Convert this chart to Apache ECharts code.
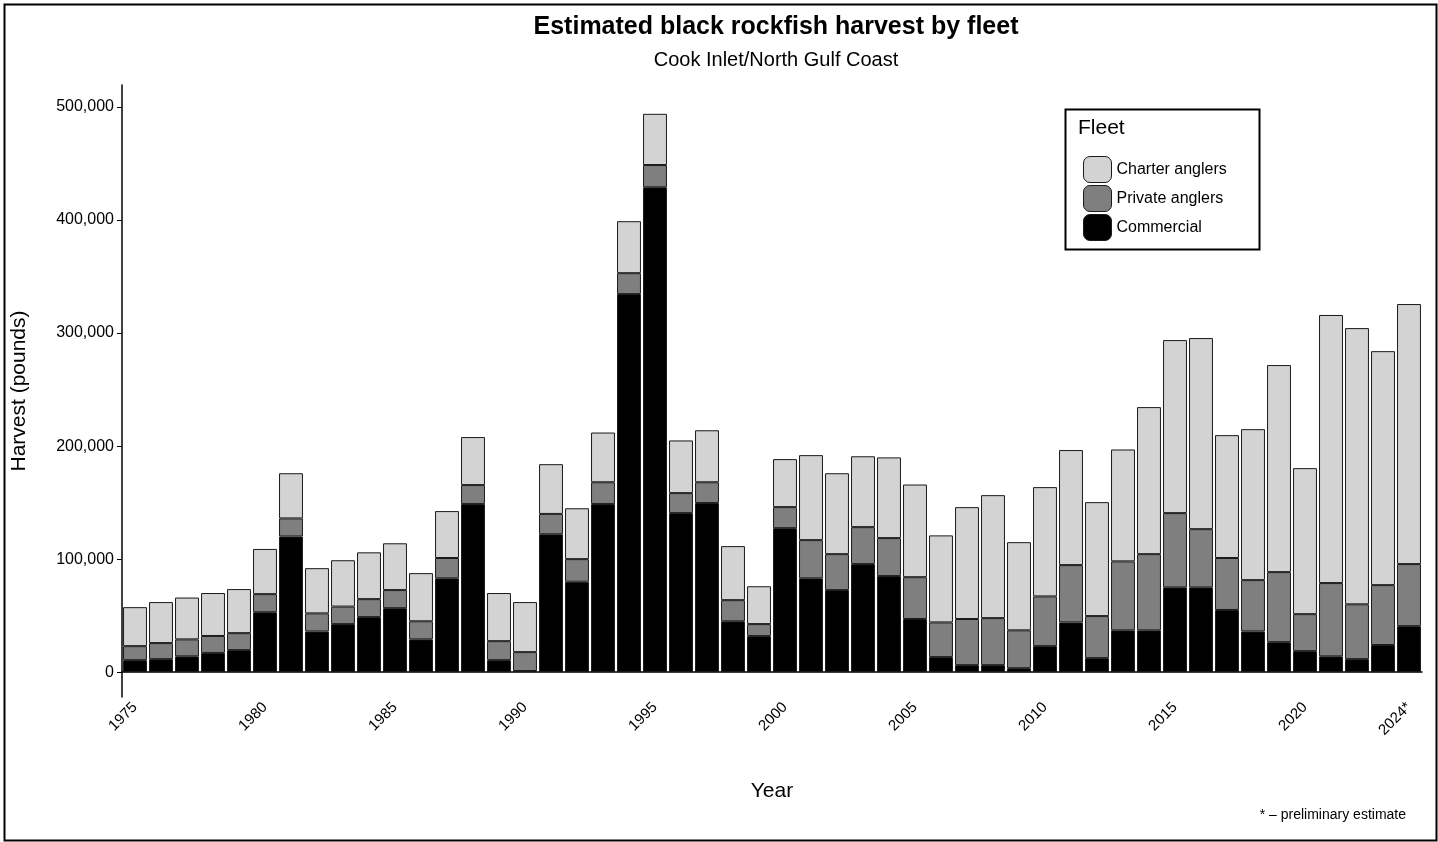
<!DOCTYPE html>
<html lang="en">
<head>
    <meta charset="UTF-8" />
    <title>Black rockfish harvest</title>
    <script src="https://cdn.jsdelivr.net/npm/echarts@6/dist/echarts.min.js"></script>
    <style>
        body { margin: 0; background: #fff; }
        #chart { width: 1438px; height: 842px; }
    </style>
</head>
<body>
    <div id="chart"></div>
    <script>
        // data (pounds)
        const years = [];
        for (let y = 1975; y <= 2024; y++) years.push(y === 2024 ? "2024*" : String(y));

        const commercial = [10600, 11500, 14000, 17000, 19500, 53000, 120000, 36000, 42500, 48700,
            56600, 29000, 83000, 148700, 10600, 1000, 122000, 80000, 148700, 334500,
            429000, 140700, 149600, 45000, 31900, 127400, 83000, 72600, 95600, 85000,
            47000, 13300, 6200, 6200, 3500, 23000, 44000, 12400, 37000, 37000,
            75000, 75000, 55000, 36000, 26500, 18600, 14000, 11500, 24000, 40700];
        const privateAnglers = [12400, 14200, 15000, 15000, 15000, 16000, 16000, 16000, 15500, 15900,
            16000, 16000, 18000, 16800, 16800, 16700, 18000, 20000, 19300, 18500,
            19700, 17700, 18400, 18700, 10600, 18600, 33800, 31800, 32700, 33600,
            37000, 30700, 40800, 41600, 33500, 44000, 50700, 37200, 61000, 67400,
            65700, 51500, 46000, 45400, 62000, 32700, 64800, 48500, 53000, 54900];
        const charter = [34500, 36300, 37000, 38000, 39000, 40000, 40000, 40000, 41000, 41400,
            41400, 42600, 41500, 42500, 42600, 44300, 44000, 45000, 44000, 46000,
            45300, 46600, 46000, 47800, 33500, 42500, 75200, 71600, 62700, 71400,
            82000, 77000, 99000, 108800, 78000, 96700, 101800, 100800, 99000, 130100,
            153100, 169100, 108700, 133600, 183200, 129200, 237200, 244400, 207000, 230100];

        const seriesNames = ["Charter anglers", "Private anglers", "Commercial"];
        const seriesColors = ["#d3d3d3", "#7f7f7f", "#000000"];

        const chart = echarts.init(document.getElementById("chart"));

        function bar(name, data, color) {
            return {
                name: name,
                type: "bar",
                stack: "total",
                data: data,
                barCategoryGap: "8%",
                itemStyle: { color: color, borderColor: "#1a1a1a", borderWidth: 1 },
                emphasis: { disabled: true }
            };
        }

        const option = {
            backgroundColor: "#fff",
            animation: false,
            textStyle: { fontFamily: "Arial, 'Liberation Sans', sans-serif" },
            title: {
                text: "Estimated black rockfish harvest by fleet",
                subtext: "Cook Inlet/North Gulf Coast",
                left: 771, top: 10, textAlign: "center",
                textStyle: { fontSize: 25, fontWeight: "bold", color: "#000" },
                subtextStyle: { fontSize: 20, color: "#000" },
                itemGap: 10
            },
            grid: { left: 122, right: 16, top: 85, bottom: 145, containLabel: false },
            xAxis: {
                type: "category",
                data: years,
                name: "Year",
                nameLocation: "middle",
                nameGap: 84,
                nameTextStyle: { fontSize: 21, color: "#000" },
                axisLine: { lineStyle: { color: "#000", width: 1.5 } },
                axisTick: {
                    alignWithLabel: true, length: 5, lineStyle: { color: "#000" },
                    interval: (i) => (i % 5 === 0 || i === years.length - 1)
                },
                axisLabel: {
                    rotate: 45, fontSize: 15, color: "#000", margin: 8,
                    interval: (i) => (i % 5 === 0 || i === years.length - 1)
                }
            },
            yAxis: {
                type: "value",
                min: -22000,
                max: 519500,
                name: "Harvest (pounds)",
                nameLocation: "middle",
                nameGap: 92,
                nameTextStyle: { fontSize: 21, color: "#000" },
                splitLine: { show: false },
                axisLine: { show: true, lineStyle: { color: "#000", width: 1.5 } },
                axisTick: {
                    show: true, length: 5, lineStyle: { color: "#000" },
                    customValues: [0, 100000, 200000, 300000, 400000, 500000]
                },
                axisLabel: {
                    fontSize: 16, color: "#000",
                    customValues: [0, 100000, 200000, 300000, 400000, 500000],
                    formatter: (v) => v.toLocaleString("en-US")
                }
            },
            legend: {
                orient: "vertical",
                left: 1078, top: 151,
                itemWidth: 28, itemHeight: 26, itemGap: 2,
                data: seriesNames,
                selectedMode: false,
                textStyle: { fontSize: 16, color: "#000" },
                itemStyle: { borderColor: "#1a1a1a", borderWidth: 1 }
            },
            graphic: [
                {
                    type: "rect", left: 2, top: 2,
                    shape: { width: 1432, height: 836 },
                    style: { fill: null, stroke: "#000", lineWidth: 2 }
                },
                {
                    type: "rect", left: 1063, top: 107,
                    shape: { width: 194, height: 140 },
                    style: { fill: null, stroke: "#000", lineWidth: 2 }
                },
                {
                    type: "text", left: 1078, top: 118,
                    style: { text: "Fleet", fontSize: 21, fill: "#000" }
                },
                {
                    type: "text", right: 32, top: 808,
                    style: { text: "* \u2013 preliminary estimate", fontSize: 14, fill: "#000" }
                }
            ],
            series: [
                bar("Commercial", commercial, seriesColors[2]),
                bar("Private anglers", privateAnglers, seriesColors[1]),
                bar("Charter anglers", charter, seriesColors[0])
            ]
        };

        chart.setOption(option);
    </script>
</body>
</html>
